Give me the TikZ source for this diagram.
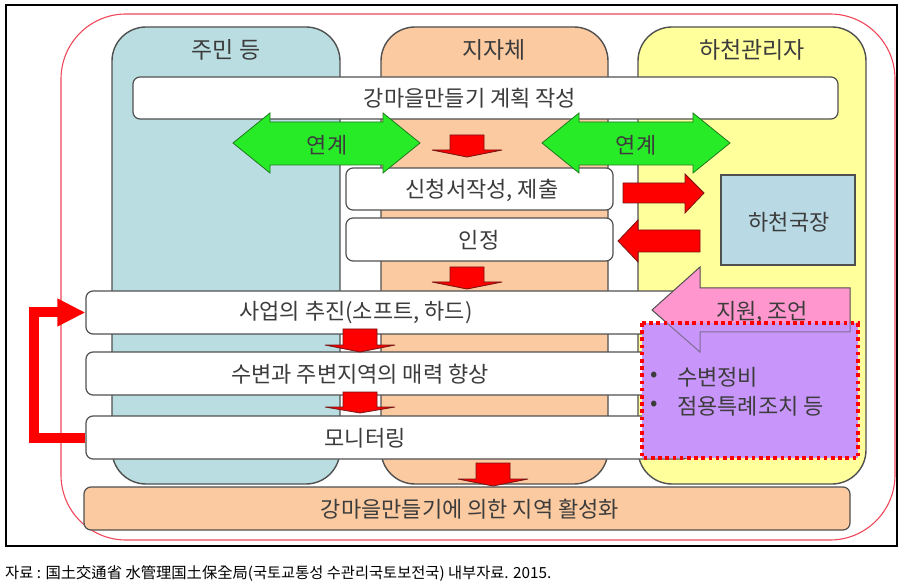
\documentclass[tikz,border=0pt]{standalone}
\usepackage{fontspec}
\setmainfont{Noto Sans CJK KR}
\usetikzlibrary{arrows.meta}
\definecolor{colblue}{RGB}{185,221,224}
\definecolor{colorange}{RGB}{251,202,160}
\definecolor{colyellow}{RGB}{255,255,155}
\definecolor{bordergray}{RGB}{80,80,80}
\definecolor{txtgray}{RGB}{60,60,60}
\definecolor{arrgreen}{RGB}{40,235,40}
\definecolor{arrgreenline}{RGB}{30,120,30}
\definecolor{arrred}{RGB}{255,0,0}
\definecolor{arrredline}{RGB}{120,20,20}
\definecolor{pinkfill}{RGB}{255,150,205}
\definecolor{purplefill}{RGB}{200,150,250}
\definecolor{hbox}{RGB}{185,218,228}
\definecolor{outerred}{RGB}{240,70,90}
\begin{document}
\begin{tikzpicture}[x=1pt,y=-1pt,
  col/.style={draw=bordergray, line width=1.4pt, rounded corners=34pt},
  wbox/.style={draw=bordergray, line width=1.2pt, fill=white, rounded corners=7pt, inner sep=0pt},
  txt/.style={text=txtgray, font=\fontsize{22}{26}\selectfont, inner sep=0pt},
  ttl/.style={text=txtgray, font=\fontsize{23}{26}\selectfont, inner sep=0pt},
  redarr/.style={fill=arrred, draw=arrredline, line width=0.8pt, line join=miter},
  grnarr/.style={fill=arrgreen, draw=arrgreenline, line width=0.8pt},
  fb/.style={draw=arrred, line width=10pt, line join=miter, -{Triangle[length=28pt,width=26pt]}}
]
\useasboundingbox (0,0) rectangle (903,588);
% frame
\draw[line width=1.2pt, black] (6,5) rectangle (897,546);
\draw[outerred, line width=1.1pt, rounded corners=65pt] (61,14) rectangle (895,540);
% columns
\draw[col, fill=colblue] (112,27) rectangle (340,484);
\draw[col, fill=colorange] (381,27) rectangle (608,484);
\draw[col, fill=colyellow] (638,27) rectangle (866,484);
\node[ttl] (t1) at (226,50) {주민 등};
\node[ttl] (t2) at (494,50) {지자체};
\node[ttl] (t3) at (752,50) {하천관리자};
% boxes
\node[wbox, minimum width=705pt, minimum height=42pt] (plan) at (485.5,98) {};
\node[txt] (plant) at (470,98) {강마을만들기 계획 작성};
\node[wbox, minimum width=267pt, minimum height=42pt] (sub) at (479.5,189) {};
\node[txt] (subt) at (482,190) {신청서작성, 제출};
\node[wbox, minimum width=267pt, minimum height=43pt] (ack) at (479.5,239.5) {};
\node[txt] (ackt) at (479,240) {인정};
\node[wbox, minimum width=604pt, minimum height=43pt] (proj) at (388,312.5) {};
\node[txt] (projt) at (356,313) {사업의 추진(소프트, 하드)};
\node[wbox, minimum width=604pt, minimum height=43pt] (attr) at (388,373.5) {};
\node[txt] (attrt) at (360,374) {수변과 주변지역의 매력 향상};
\node[wbox, minimum width=604pt, minimum height=43pt] (mon) at (388,437.5) {};
\node[txt] (mont) at (365,438) {모니터링};
\node[wbox, fill=colorange, minimum width=766pt, minimum height=43pt] (final) at (467,508.5) {};
\node[txt] (finalt) at (470,509) {강마을만들기에 의한 지역 활성화};
% river bureau
\node[draw=bordergray, line width=1.4pt, fill=hbox, minimum width=134pt, minimum height=90pt, inner sep=0pt] (bureau) at (788,220) {};
\node[txt] (bureaut) at (789,222) {하천국장};
% pink arrow
\draw[fill=pinkfill, draw=bordergray, line width=1pt, line join=miter]
  (652,310) -- (700,267) -- (700,288) -- (850,288) -- (850,332) -- (700,332) -- (700,352) -- cycle;
\node[txt] (pinkt) at (762,312) {지원, 조언};
% purple box
\fill[purplefill] (642,323) rectangle (858,458);
\begin{scope}
\clip (642,323) rectangle (858,458);
\draw[draw=bordergray, draw opacity=0.6, line width=1pt, line join=miter]
  (652,310) -- (700,267) -- (700,288) -- (850,288) -- (850,332) -- (700,332) -- (700,352) -- cycle;
\end{scope}
\draw[arrred, line width=3.6pt, dash pattern=on 3.6pt off 3.6pt] (642,323) rectangle (858,458);
\node[txt, anchor=center] (b1) at (654,377) {•};
\node[txt, anchor=west] (b1t) at (677,377) {수변정비};
\node[txt, anchor=center] (b2) at (654,406) {•};
\node[txt, anchor=west] (b2t) at (677,406) {점용특례조치 등};
% small red down arrows
\foreach \cx/\tp/\bs/\tip in {467/135/150/157, 467/267/282/289, 360/329/345/352, 360/392/407/413, 493/463/479/486}{
  \draw[redarr] (\cx-17,\tp) -- (\cx+17,\tp) -- (\cx+17,\bs) -- (\cx+35,\bs) -- (\cx,\tip) -- (\cx-35,\bs) -- (\cx-17,\bs) -- cycle;
}
% red side arrows
\draw[redarr] (623,183) -- (685,183) -- (685,174) -- (704,193) -- (685,213) -- (685,203) -- (623,203) -- cycle;
\draw[redarr] (618,241) -- (638,220) -- (638,230) -- (700,230) -- (700,252) -- (638,252) -- (638,262) -- cycle;
% green double arrows
\draw[grnarr] (233,143) -- (270,113) -- (270,122) -- (383,122) -- (383,113) -- (420,143) -- (383,173) -- (383,165) -- (270,165) -- (270,173) -- cycle;
\node[txt] (g1) at (327,145) {연계};
\draw[grnarr] (542,143) -- (579,113) -- (579,122) -- (693,122) -- (693,113) -- (730,143) -- (693,173) -- (693,165) -- (579,165) -- (579,173) -- cycle;
\node[txt] (g2) at (636,145) {연계};
% feedback
\draw[fb] (mon.west) -- ++(-51,0) |- (proj.west);
% caption
\node[anchor=west, inner sep=0pt, font=\fontsize{15.3}{18}\selectfont] (cap) at (5,574) {자료 : 国土交通省 水管理国土保全局(국토교통성 수관리국토보전국) 내부자료. 2015.};
\end{tikzpicture}
\end{document}
